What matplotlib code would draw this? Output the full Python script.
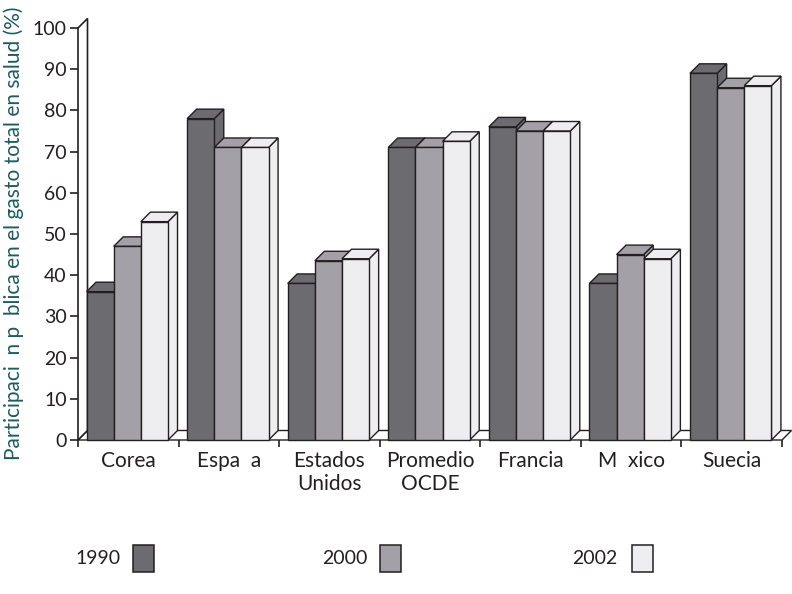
import matplotlib
matplotlib.use('Agg')
import matplotlib.pyplot as plt
from matplotlib.patches import Rectangle, Polygon

plt.rcParams['font.family'] = ['Lato', 'DejaVu Sans']

categories = ['Corea', 'Espa  a', 'Estados\nUnidos', 'Promedio\nOCDE', 'Francia', 'M  xico', 'Suecia']
years = ['1990', '2000', '2002']
v1990 = [36, 78, 38, 71, 76, 38, 89]
v2000 = [47, 71, 43.5, 71, 75, 45, 85.5]
v2002 = [53, 71, 44, 72.5, 75, 44, 86]
colors = ['#6c6b70', '#a3a1a7', '#eeeef1']
edge = '#231f20'

fig = plt.figure(figsize=(7.92, 5.94), dpi=100)
ax = fig.add_axes([78/792, 154/594, 704/792, 412/594])
ax.set_xlim(0, 7)
ax.set_ylim(0, 100)
for s in ax.spines.values():
    s.set_visible(False)

dx = 9.5 / 100.57
dy = 9.5 / 4.12
lw = 1.0

# floor and left wall
ax.add_patch(Polygon([(0, 0), (7, 0), (7 + dx, dy), (dx, dy)], closed=True,
                     facecolor='white', edgecolor=edge, lw=lw, clip_on=False, zorder=1))
ax.add_patch(Polygon([(0, 0), (dx, dy), (dx, 100 + dy), (0, 100)], closed=True,
                     facecolor='white', edgecolor=edge, lw=1.2, clip_on=False, zorder=1))

w = 0.27
z = 2
for i in range(len(categories)):
    for j, vals in enumerate([v1990, v2000, v2002]):
        h = vals[i]
        x0 = i + 0.085 + j * w
        kw = dict(facecolor=colors[j], edgecolor=edge, lw=lw, clip_on=False, zorder=z)
        ax.add_patch(Polygon([(x0 + w, 0), (x0 + w + dx, dy), (x0 + w + dx, h + dy), (x0 + w, h)], closed=True, **kw))
        ax.add_patch(Polygon([(x0, h), (x0 + w, h), (x0 + w + dx, h + dy), (x0 + dx, h + dy)], closed=True, **kw))
        ax.add_patch(Rectangle((x0, 0), w, h, **kw))
        z += 1

ax.set_yticks(range(0, 101, 10))
ax.set_xticks(range(0, 8))
ax.set_xticklabels([])
ax.tick_params(axis='y', direction='out', length=6, width=1.2, color=edge, pad=2,
               labelsize=14, labelcolor='#231f20')
ax.tick_params(axis='x', direction='out', length=5, width=1.2, color=edge)

for i, c in enumerate(categories):
    ax.text(i + 0.5, -2.6, c, ha='center', va='top', fontsize=15, color='#231f20',
            linespacing=1.2, clip_on=False)

fig.text(14/792, 1 - 233/594, 'Participaci  n p  blica en el gasto total en salud (%)',
         rotation=90, ha='center', va='center', fontsize=15, color='#1d5b5e')

# legend
leg_text_x = [121, 368, 617]
leg_box_x = [133, 380, 632]
for k in range(3):
    fig.text(leg_text_x[k]/792, 1 - 558/594, years[k], ha='right', va='center',
             fontsize=14, color='#231f20')
    fig.patches.append(Rectangle((leg_box_x[k]/792, 1 - 572/594), 21/792, 27/594,
                                 transform=fig.transFigure, facecolor=colors[k],
                                 edgecolor=edge, lw=1.1))

fig.savefig('out.png', dpi=100)
